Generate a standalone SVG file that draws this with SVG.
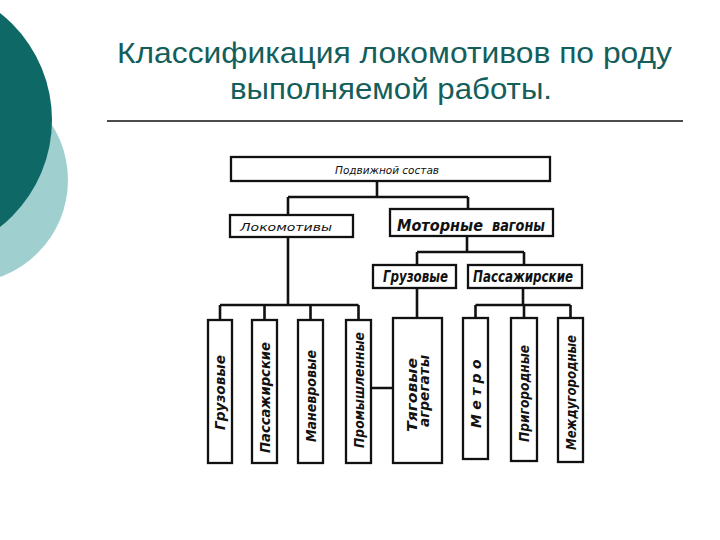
<svg xmlns="http://www.w3.org/2000/svg" width="720" height="540" viewBox="0 0 720 540">
<style>
.box{fill:#fff;stroke:#111;stroke-width:2.3}
.ln{fill:none;stroke:#111;stroke-width:2.6}
.t{font-family:"DejaVu Sans Condensed","DejaVu Sans",sans-serif;font-style:italic;fill:#111}
.thin{font-weight:normal;font-size:11px}
.b{font-weight:bold}
.v{font-weight:bold;font-size:14px;text-anchor:middle}
.title{font-family:"Liberation Sans",Arial,sans-serif;font-size:29px;fill:#145E5B;text-anchor:middle}
</style>
<rect width="720" height="540" fill="#fff"/>
<g id="decor">
<circle cx="-35" cy="180" r="103" fill="#9FCFCE"/>
<circle cx="-84" cy="120" r="136" fill="#0D6866"/>
</g>
<g id="title">
<text class="title" x="394.5" y="63" textLength="555" lengthAdjust="spacingAndGlyphs">Классификация локомотивов по роду</text>
<text class="title" x="391" y="99" textLength="322" lengthAdjust="spacingAndGlyphs">выполняемой работы.</text>
<line x1="107" y1="121" x2="683" y2="121" stroke="#111" stroke-width="1.3"/>
</g>
<g id="connectors">
<path class="ln" d="M377 181V197M288 197H468M288 197V215M468 197V209"/>
<path class="ln" d="M288 237V305M220 305H358.5M220 305V320M264.5 305V320M310.5 305V320M358.5 305V320"/>
<path class="ln" d="M467 236V252M417 252H524M417 252V265M524 252V265"/>
<path class="ln" d="M417 288V318M371 388H393"/>
<path class="ln" d="M523 288V305M475.5 305H570.5M475.5 305V318M524 305V318M570.5 305V318"/>
</g>
<g id="n-podvizhnoy">
<rect class="box" x="231" y="157" width="319" height="24"/>
<text class="t thin" x="387" y="174" text-anchor="middle" textLength="104" lengthAdjust="spacingAndGlyphs">Подвижной состав</text>
</g>
<g id="n-lokomotivy">
<rect class="box" x="230" y="215" width="123" height="22"/>
<text class="t thin" x="240" y="231" textLength="92" lengthAdjust="spacingAndGlyphs">Локомотивы</text>
</g>
<g id="n-motornye">
<rect class="box" x="390" y="209" width="163" height="27"/>
<text class="t b" x="397" y="231" font-size="16" textLength="86" lengthAdjust="spacingAndGlyphs">Моторные</text>
<text class="t b" x="492" y="231" font-size="16" textLength="53" lengthAdjust="spacingAndGlyphs">вагоны</text>
</g>
<g id="n-gruz2">
<rect class="box" x="373" y="265" width="83" height="23"/>
<text class="t b" x="383" y="282" font-size="15" textLength="65" lengthAdjust="spacingAndGlyphs">Грузовые</text>
</g>
<g id="n-pass2">
<rect class="box" x="468" y="265" width="114" height="23"/>
<text class="t b" x="473" y="282" font-size="15" textLength="100" lengthAdjust="spacingAndGlyphs">Пассажирские</text>
</g>
<g id="n-gruz">
<rect class="box" x="208" y="320" width="24" height="143"/>
<text class="t v" transform="translate(220 392.5) rotate(-90)" y="5" textLength="75" lengthAdjust="spacingAndGlyphs">Грузовые</text>
</g>
<g id="n-pass">
<rect class="box" x="252" y="320" width="25" height="143"/>
<text class="t v" transform="translate(264.5 397.5) rotate(-90)" y="5" textLength="111" lengthAdjust="spacingAndGlyphs">Пассажирские</text>
</g>
<g id="n-manevr">
<rect class="box" x="298" y="320" width="25" height="143"/>
<text class="t v" transform="translate(310.5 396) rotate(-90)" y="5" textLength="92" lengthAdjust="spacingAndGlyphs">Маневровые</text>
</g>
<g id="n-prom">
<rect class="box" x="346" y="320" width="25" height="143"/>
<text class="t v" transform="translate(358.5 390) rotate(-90)" y="5" textLength="116" lengthAdjust="spacingAndGlyphs">Промышленные</text>
</g>
<g id="n-tyag">
<rect class="box" x="393" y="318" width="49" height="145"/>
<text class="t v" transform="translate(412 395) rotate(-90)" y="5" textLength="74" lengthAdjust="spacingAndGlyphs">Тяговые</text>
<text class="t v" transform="translate(424 391) rotate(-90)" y="5" textLength="72" lengthAdjust="spacingAndGlyphs">агрегаты</text>
</g>
<g id="n-metro">
<rect class="box" x="463" y="318" width="25" height="141"/>
<text class="t v" transform="translate(475.5 391.5) rotate(-90)" y="5" font-size="15" textLength="73" lengthAdjust="spacingAndGlyphs" letter-spacing="4">Метро</text>
</g>
<g id="n-prigor">
<rect class="box" x="511" y="318" width="26" height="143"/>
<text class="t v" transform="translate(524 393.5) rotate(-90)" y="5" textLength="97" lengthAdjust="spacingAndGlyphs">Пригородные</text>
</g>
<g id="n-mezhd">
<rect class="box" x="558" y="318" width="25" height="144"/>
<text class="t v" transform="translate(570.5 392.5) rotate(-90)" y="5" textLength="115" lengthAdjust="spacingAndGlyphs">Междугородные</text>
</g>
</svg>
